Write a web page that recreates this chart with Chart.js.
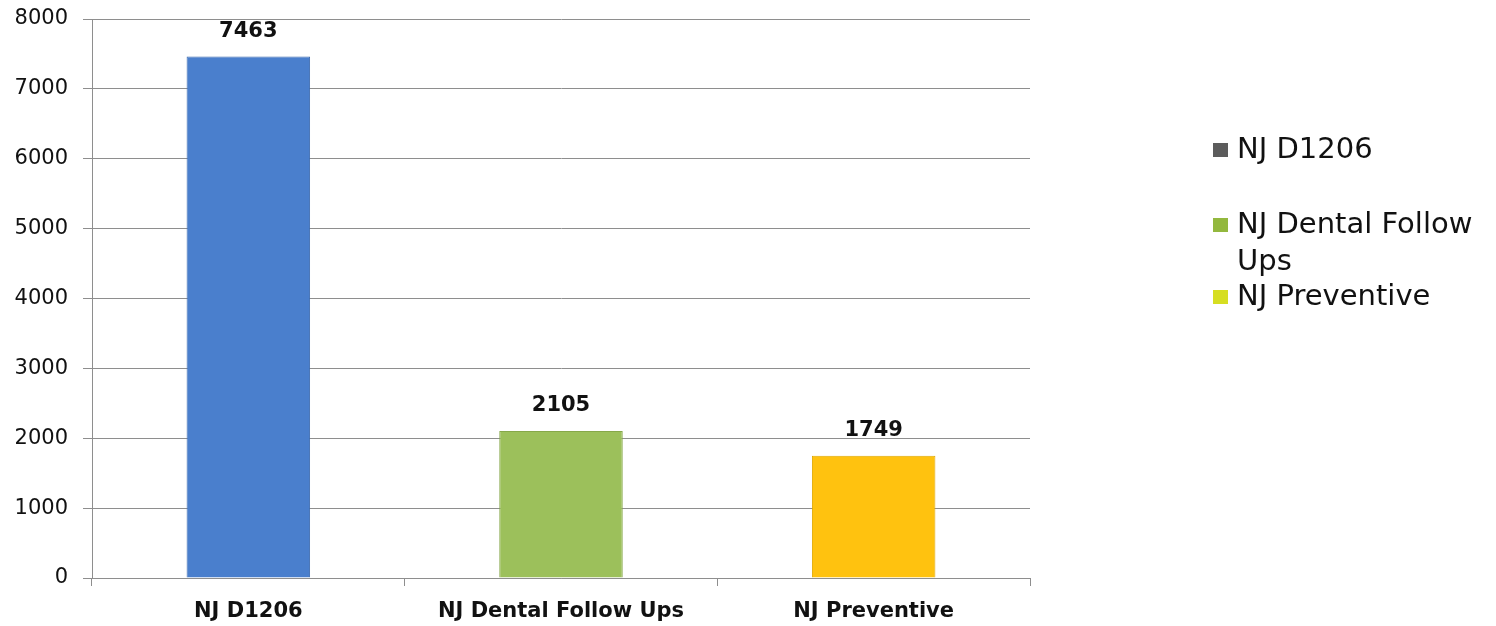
<!DOCTYPE html>
<html>
<head>
<meta charset="utf-8">
<script src="https://cdn.jsdelivr.net/npm/chart.js@4/dist/chart.umd.min.js"></script>
<style>
  html, body { margin: 0; padding: 0; background: #ffffff; }
  canvas { display: block; }
</style>
</head>
<body>
<canvas id="chart" width="1496" height="626"></canvas>
<script>
// Categories and counts
const categories = ['NJ D1206', 'NJ Dental Follow Ups', 'NJ Preventive'];
const counts = [7463, 2105, 1749];

// Value axis ticks
const yMin = 0;
const yMax = 8000;
const yStep = 1000;

// Bar fills and legend swatches
const barColors = ['#4A7FCD', '#9CC05B', '#FFC20F'];
const barBorders = ['#3E6CB0', '#86A84A', '#E0A800'];
const legendSwatches = ['#5C5C5C', '#93B83E', '#D6DE22'];

const FONT = '"DejaVu Sans", "Liberation Sans", Arial, sans-serif';
const GRID = '#8E8E8E';

// Value labels above each bar
const valueLabels = {
  id: 'valueLabels',
  afterDatasetsDraw(chart) {
    const ctx = chart.ctx;
    const meta = chart.getDatasetMeta(0);
    const data = chart.data.datasets[0].data;
    ctx.save();
    ctx.font = 'bold 21px ' + FONT;
    ctx.fillStyle = '#111111';
    ctx.textAlign = 'center';
    ctx.textBaseline = 'middle';
    meta.data.forEach((bar, i) => {
      ctx.fillText(String(data[i]), bar.x, bar.y - 25);
    });
    ctx.restore();
  }
};

// Legend drawn to the right of the plot, wrapping long names
const sideLegend = {
  id: 'sideLegend',
  afterDraw(chart) {
    const ctx = chart.ctx;
    const labels = chart.data.labels;
    const boxX = 1213, textX = 1237, maxW = 1496 - textX - 8;
    const starts = [150, 225, 297];
    const lineH = 37;
    ctx.save();
    ctx.font = '29px ' + FONT;
    ctx.textBaseline = 'middle';
    ctx.textAlign = 'left';
    labels.forEach((label, i) => {
      const words = label.split(' ');
      const lines = [];
      let cur = '';
      words.forEach(w => {
        const test = cur ? cur + ' ' + w : w;
        if (ctx.measureText(test).width > maxW && cur) {
          lines.push(cur);
          cur = w;
        } else {
          cur = test;
        }
      });
      if (cur) lines.push(cur);
      const y0 = starts[i];
      ctx.fillStyle = legendSwatches[i];
      ctx.fillRect(boxX, y0 - 7, 15, 14);
      ctx.fillStyle = '#111111';
      lines.forEach((ln, j) => ctx.fillText(ln, textX, y0 + j * lineH));
    });
    ctx.restore();
  }
};

new Chart(document.getElementById('chart'), {
  type: 'bar',
  data: {
    labels: categories,
    datasets: [{
      data: counts,
      backgroundColor: barColors,
      borderColor: barBorders,
      borderWidth: 1,
      categoryPercentage: 1.0,
      barPercentage: 0.395
    }]
  },
  options: {
    responsive: false,
    animation: false,
    devicePixelRatio: 1,
    layout: { padding: { top: 19, right: 466, left: 0, bottom: 0 } },
    plugins: {
      legend: { display: false },
      tooltip: { enabled: false }
    },
    scales: {
      y: {
        min: yMin,
        max: yMax,
        ticks: {
          stepSize: yStep,
          color: '#111111',
          font: { family: FONT, size: 21 },
          padding: 15,
          callback: (v) => String(v)
        },
        grid: { color: GRID, lineWidth: 1, tickLength: 9 },
        border: { display: true, color: GRID, width: 1 },
        afterFit(axis) {
          axis.width = 92;
          axis.paddingTop = 0;
          axis.paddingBottom = 0;
        }
      },
      x: {
        ticks: {
          color: '#111111',
          font: { family: FONT, size: 21, weight: 'bold' },
          padding: 13
        },
        grid: { offset: true, drawOnChartArea: false, color: GRID, tickLength: 8 },
        border: { display: true, color: GRID, width: 1 },
        afterFit(axis) { axis.height = 48; }
      }
    }
  },
  plugins: [valueLabels, sideLegend]
});
</script>
</body>
</html>
